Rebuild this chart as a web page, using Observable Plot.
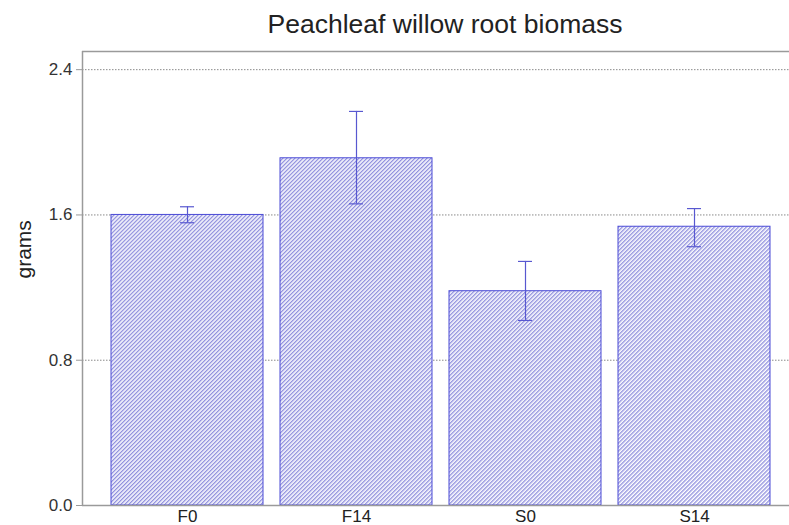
<!DOCTYPE html>
<html>
<head>
<meta charset="utf-8">
<script src="https://cdn.jsdelivr.net/npm/d3@7"></script>
<script src="https://cdn.jsdelivr.net/npm/@observablehq/plot@0.6"></script>
<style>
  html, body { margin: 0; padding: 0; background: #fff; }
  #wrap { position: relative; width: 789px; height: 525px; overflow: hidden; font-family: "Liberation Sans", Arial, sans-serif; }
  #title { position: absolute; top: 11px; left: 445px; transform: translateX(-50%); font-size: 26.5px; line-height: 26px; color: #222; white-space: nowrap; }
  #chart { position: absolute; top: 0; left: 0; }
</style>
</head>
<body>
<div id="wrap">
  <div id="chart"></div>
  <div id="title">Peachleaf willow root biomass</div>
</div>
<script>
const categories = ["F0", "F14", "S0", "S14"];
const means = [1.60, 1.912, 1.180, 1.535];
const errLow = [1.557, 1.661, 1.019, 1.425];
const errHigh = [1.645, 2.170, 1.344, 1.635];
const yTicks = [0, 0.8, 1.6, 2.4];
const yLabel = "grams";

const data = categories.map((c, i) => ({cat: c, mean: means[i], lo: errLow[i], hi: errHigh[i]}));

const barColor = "#4b4bd6";
const errColor = "#5858d0";
const axisColor = "#9a9a9a";

const plot = Plot.plot({
  width: 789,
  height: 525,
  marginLeft: 82,
  marginRight: 0,
  marginTop: 51,
  marginBottom: 20,
  style: {fontFamily: "'Liberation Sans', Arial, sans-serif", fontSize: "16px", color: "#333", background: "transparent"},
  x: {domain: categories, range: [82, 789], paddingInner: 0.1, paddingOuter: 0.13, align: 0.61},
  y: {domain: [0, 2.5]},
  marks: [
    Plot.gridY(yTicks.filter(d => d > 0), {stroke: "#8a8a8a", strokeOpacity: 1, strokeDasharray: "1.5,1.5"}),
    Plot.barY(data, {x: "cat", y: "mean", fill: "url(#hatch)", stroke: barColor, strokeWidth: 1}),
    Plot.ruleX(data, {x: "cat", y1: "lo", y2: "hi", stroke: errColor, strokeWidth: 1.2}),
    Plot.tickY(data, {x: "cat", y: "lo", stroke: errColor, strokeWidth: 1.2, insetLeft: 69, insetRight: 69}),
    Plot.tickY(data, {x: "cat", y: "hi", stroke: errColor, strokeWidth: 1.2, insetLeft: 69, insetRight: 69}),
    Plot.ruleY([0, 2.5], {stroke: axisColor, strokeWidth: 1.5}),
    Plot.axisY({ticks: yTicks, tickFormat: d3.format(".1f"), tickSize: 6, tickPadding: 4, stroke: axisColor, color: "#333", fontSize: 17, label: null}),
    Plot.text([yLabel], {frameAnchor: "left", rotate: -90, dx: -58, text: d => d, fontSize: 21, fill: "#222"}),
    Plot.axisX({tickSize: 0, tickPadding: 4, fontSize: 17, color: "#222", label: null})
  ]
});

const svg = d3.select(plot);
// left frame line
svg.append("line")
  .attr("x1", 82.5).attr("x2", 82.5).attr("y1", 51).attr("y2", 505)
  .attr("stroke", axisColor).attr("stroke-width", 1.5);

// hatch pattern
const defs = svg.insert("defs", ":first-child");
const pat = defs.append("pattern")
  .attr("id", "hatch")
  .attr("patternUnits", "userSpaceOnUse")
  .attr("width", 2.83).attr("height", 2.83)
  .attr("patternTransform", "rotate(45)");
pat.append("rect").attr("width", 2.83).attr("height", 2.83).attr("fill", "#ffffff");
pat.append("line").attr("x1", 0.7).attr("x2", 0.7).attr("y1", 0).attr("y2", 2.83)
  .attr("stroke", "#8585da").attr("stroke-width", 1.2);

document.getElementById("chart").appendChild(plot);
</script>
</body>
</html>
